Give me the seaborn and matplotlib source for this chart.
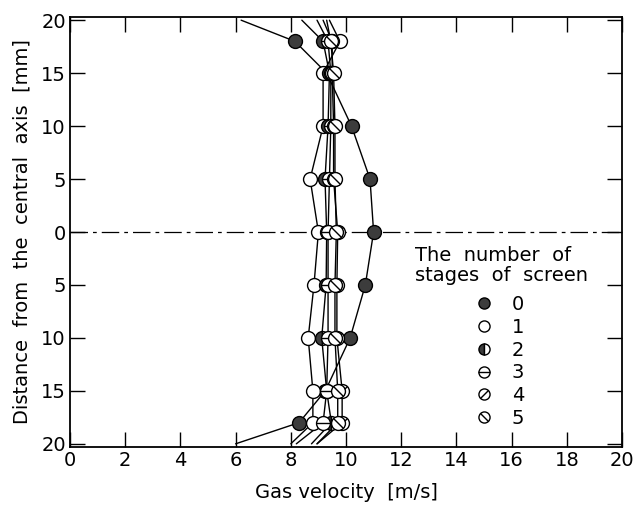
import numpy as np
import pandas as pd
import matplotlib
matplotlib.use('Agg')
import matplotlib.pyplot as plt
from matplotlib.lines import Line2D
from matplotlib.path import Path
import seaborn as sns

# radial positions of the measuring points [mm]
positions = [18, 15, 10, 5, 0, -5, -10, -15, -18]
# gas velocity at each position [m/s], one list per number of screen stages
stage0 = [8.15, 9.3, 10.2, 10.87, 11.0, 10.7, 10.15, 9.25, 8.3]
stage1 = [9.78, 9.17, 9.17, 8.7, 9.0, 8.84, 8.63, 8.8, 8.8]
stage2 = [9.17, 9.4, 9.35, 9.24, 9.3, 9.28, 9.12, 9.3, 9.47]
stage3 = [9.35, 9.45, 9.45, 9.4, 9.35, 9.35, 9.35, 9.3, 9.17]
stage4 = [9.5, 9.5, 9.55, 9.55, 9.7, 9.67, 9.67, 9.86, 9.86]
stage5 = [9.45, 9.55, 9.6, 9.6, 9.65, 9.6, 9.6, 9.7, 9.7]
# where each fitted curve meets the wall (y = +20 / -20)
wall_top = [6.2, 9.4, 8.4, 8.95, 9.17, 9.3]
wall_bottom = [6.0, 8.0, 8.75, 8.2, 8.95, 8.95]
stage_labels = ['0', '1', '2', '3', '4', '5']
ytick_vals = [20, 15, 10, 5, 0, -5, -10, -15, -20]
ytick_text = ['20', '15', '10', '5', '0', '5', '10', '15', '20']

series = [stage0, stage1, stage2, stage3, stage4, stage5]

rows = []
for lab, vel, top, bot in zip(stage_labels, series, wall_top, wall_bottom):
    rows.append({'stage': lab, 'velocity': top, 'distance': 20, 'order': 0})
    for i, (p, v) in enumerate(zip(positions, vel)):
        rows.append({'stage': lab, 'velocity': v, 'distance': p, 'order': i + 1})
    rows.append({'stage': lab, 'velocity': bot, 'distance': -20, 'order': 99})
curves = pd.DataFrame(rows).sort_values(['stage', 'order'])
points = curves[curves['order'].between(1, 98)]

sns.set_style('ticks')
plt.rcParams['font.family'] = ['DejaVu Sans']
plt.rcParams['font.size'] = 14
plt.rcParams['text.color'] = 'black'
plt.rcParams['axes.labelcolor'] = 'black'

fig = plt.figure(figsize=(6.37, 5.09), dpi=100)
ax = fig.add_axes([70 / 637, 1 - 447 / 509, 552 / 637, 430 / 509])

ax.axhline(0, color='black', lw=0.9, ls=(0, (14, 4, 3, 4)), zorder=1)

sns.lineplot(data=curves, x='velocity', y='distance', hue='stage', sort=False,
             estimator=None, palette=['black'] * 6, lw=1.0, legend=False, ax=ax, zorder=2)

DARK = '#3c3c3c'
slash = Path([(-1, -1), (1, 1)], [Path.MOVETO, Path.LINETO])
backslash = Path([(-1, 1), (1, -1)], [Path.MOVETO, Path.LINETO])
MS = 10

def marker_styles(lab, ms):
    base = dict(marker='o', ms=ms, mec='black', mew=1.0, ls='none')
    if lab == '0':
        return [dict(base, mfc=DARK)]
    if lab == '1':
        return [dict(base, mfc='white')]
    if lab == '2':
        return [dict(base, mfc=DARK, fillstyle='left', markerfacecoloralt='white')]
    over = {'3': '_', '4': slash, '5': backslash}[lab]
    size = ms if lab == '3' else ms * 0.72
    return [dict(base, mfc='white'), dict(marker=over, ms=size, mec='black', mew=1.0, ls='none')]

handles = []
for lab in stage_labels:
    sub = points[points['stage'] == lab]
    for st in marker_styles(lab, MS):
        ax.plot(sub['velocity'], sub['distance'], zorder=3, **st)
    handles.append(tuple(Line2D([], [], **st) for st in marker_styles(lab, 8)))

ax.set_xlim(0, 20)
ax.set_ylim(-20.3, 20.3)
ax.set_xticks(range(0, 21, 2))
ax.set_yticks(ytick_vals)
ax.set_yticklabels(ytick_text)
ax.tick_params(direction='in', length=11, width=1.0, top=True, right=True,
               labelsize=14, pad=3, colors='black')
for s in ax.spines.values():
    s.set_linewidth(1.3)
    s.set_color('black')
ax.set_xlabel('Gas velocity  [m/s]', fontsize=14, labelpad=9)
ax.set_ylabel('Distance  from  the  central  axis  [mm]', fontsize=14, labelpad=7)

fig.text(415 / 637, 1 - 246 / 509, 'The  number  of\nstages  of  screen', fontsize=14,
         va='top', ha='left', linespacing=1.05)
ax.legend(handles, stage_labels, loc='upper left', bbox_to_anchor=(463 / 637, 1 - 285 / 509),
          bbox_transform=fig.transFigure, frameon=False, handlelength=1.2, handletextpad=0.8,
          labelspacing=0.2, fontsize=14, borderpad=0)

fig.savefig('out.png', dpi=100)
